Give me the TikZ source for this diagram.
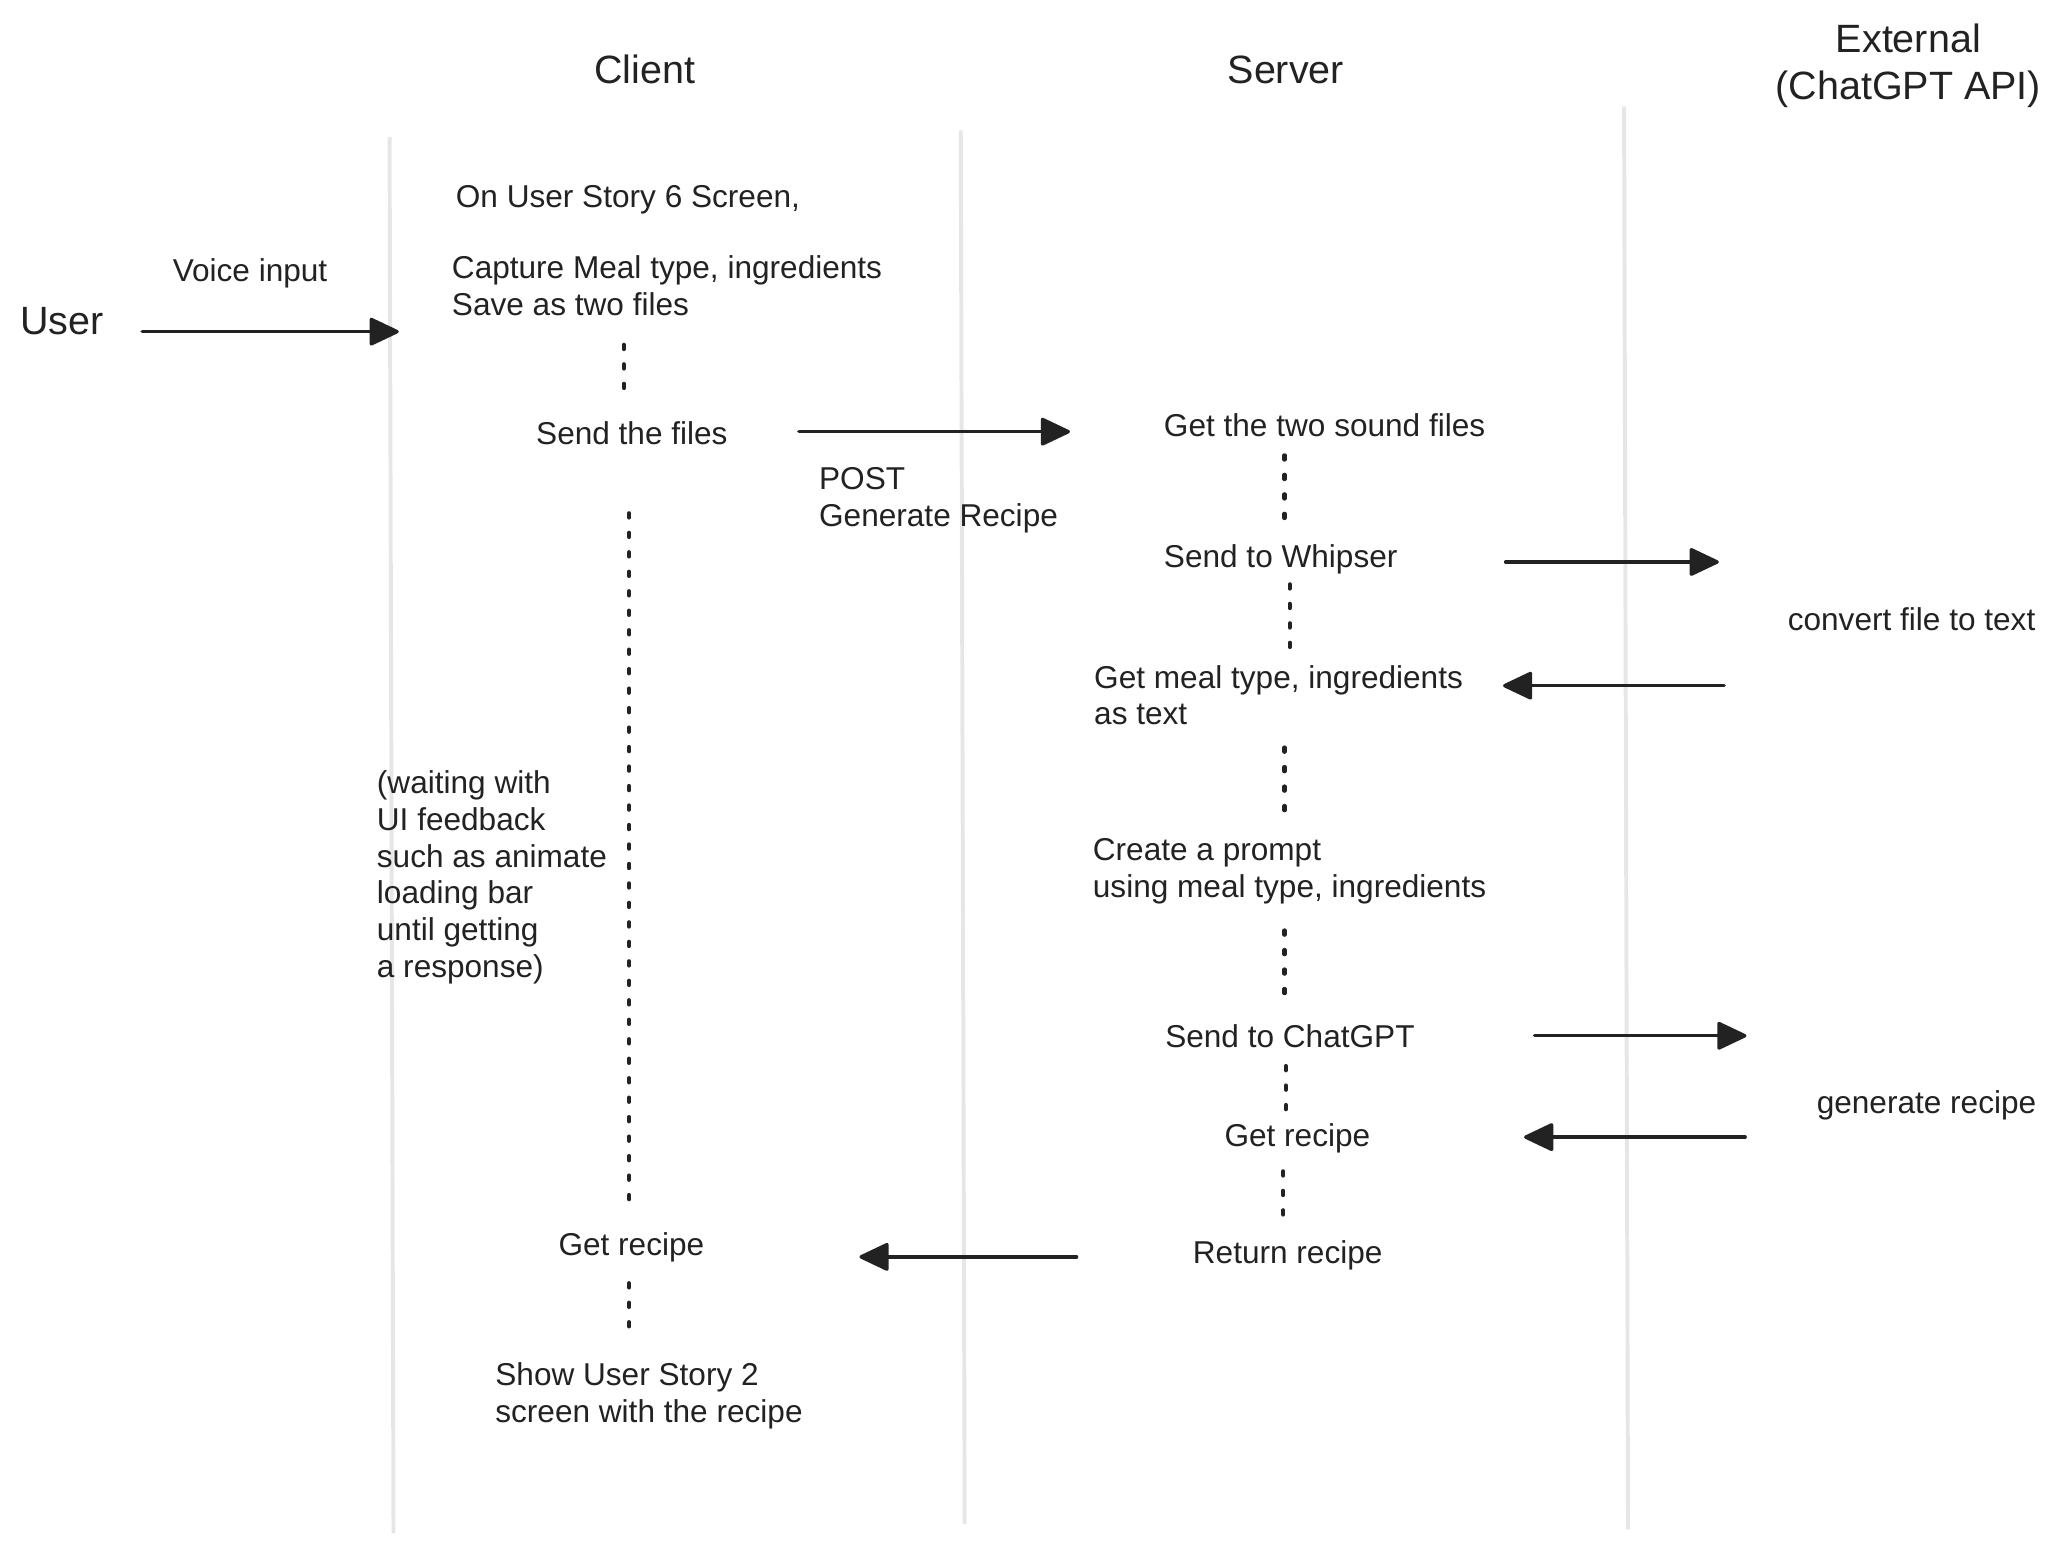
\documentclass[tikz,border=0pt]{standalone}
\usepackage{fontspec}
\setmainfont{Liberation Sans}
\usetikzlibrary{arrows.meta}
\definecolor{ink}{HTML}{222222}
\definecolor{lane}{HTML}{E6E6E6}
\begin{document}
\begin{tikzpicture}[x=0.5pt,y=-0.5pt]
  \tikzstyle{every node}=[inner sep=0pt,text=ink,font=\fontsize{12}{14}\selectfont]
  \tikzstyle{head}=[font=\fontsize{15}{17.5}\selectfont,align=center]
  \tikzstyle{note}=[anchor=base west]
  \tikzstyle{block}=[anchor=north west,align=left]
  \tikzstyle{lifeline}=[draw=lane,line width=1.5pt]
  \tikzstyle{msg}=[draw=ink,line width=1.3pt,line cap=round,-{Triangle[length=12pt,width=11pt,round]}]
  \tikzstyle{dots}=[draw=ink,line width=1.6pt,line cap=round,dash pattern=on 1.6pt off 5.8pt]
  \useasboundingbox (0,0) rectangle (1566,1176);

  \coordinate (cl top) at (296,104);  \coordinate (cl bot) at (299,1165);
  \coordinate (sv top) at (730,99);   \coordinate (sv bot) at (733,1158);
  \coordinate (ex top) at (1234,81);  \coordinate (ex bot) at (1237,1162);
  \draw [lifeline] (cl top) -- (cl bot);
  \draw [lifeline] (sv top) -- (sv bot);
  \draw [lifeline] (ex top) -- (ex bot);

  \node (client) [head] at (490,53) {Client};
  \node (server) [head] at (977,53) {Server};
  \node (extern) [head] at (1450,50) {External\\(ChatGPT API)};
  \node (user) [head,anchor=base west] at (15,254) {User};

  \node (voice) [anchor=base] at (190,214) {Voice input};
  \node (story) [note] at (346,158) {On User Story 6 Screen,};
  \node (capture) [block] at (343,194) {Capture Meal type, ingredients\\Save as two files};
  \node (send) [note] at (407,338) {Send the files};
  \node (post) [block] at (622,355) {POST\\Generate Recipe};
  \node (wait) [block] at (286,585) {(waiting with\\UI feedback\\such as animate\\loading bar\\until getting\\a response)};
  \node (cl recipe) [note] at (424,954) {Get recipe};
  \node (show) [block] at (376,1035) {Show User Story 2\\screen with the recipe};

  \node (get files) [note] at (884,332) {Get the two sound files};
  \node (whisper) [note] at (884,431) {Send to Whipser};
  \node (as text) [block] at (831,505) {Get meal type, ingredients\\as text};
  \node (prompt) [block] at (830,637) {Create a prompt\\using meal type, ingredients};
  \node (to gpt) [note] at (885,796) {Send to ChatGPT};
  \node (sv recipe) [note] at (930,871) {Get recipe};
  \node (return) [note] at (906,960) {Return recipe};

  \node (convert) [note] at (1358,479) {convert file to text};
  \node (generate) [note] at (1380,846) {generate recipe};

  \coordinate (u1) at (108,252);   \coordinate (u2) at (303,252);
  \coordinate (p1) at (607,328);   \coordinate (p2) at (813,328);
  \coordinate (w1) at (1144,427);  \coordinate (w2) at (1306,427);
  \coordinate (t1) at (1310,521);  \coordinate (t2) at (1142,521);
  \coordinate (g1) at (1166,787);  \coordinate (g2) at (1327,787);
  \coordinate (r1) at (1326,864);  \coordinate (r2) at (1158,864);
  \coordinate (b1) at (818,955);   \coordinate (b2) at (653,955);
  \draw [msg] (u1) -- (u2);
  \draw [msg] (p1) -- (p2);
  \draw [msg] (w1) -- (w2);
  \draw [msg] (t1) -- (t2);
  \draw [msg] (g1) -- (g2);
  \draw [msg] (r1) -- (r2);
  \draw [msg] (b1) -- (b2);

  \foreach \x/\ya/\yb [count=\i] in {474/262/297, 478/390/915, 478/975/1010,
      976/346/395, 980/444/494, 976/568/617, 976/707/757, 977/810/845, 975/890/925} {
    \coordinate (d\i a) at (\x,\ya);
    \coordinate (d\i b) at (\x,\yb);
    \draw [dots] (d\i a) -- (d\i b);
  }
\end{tikzpicture}
\end{document}
